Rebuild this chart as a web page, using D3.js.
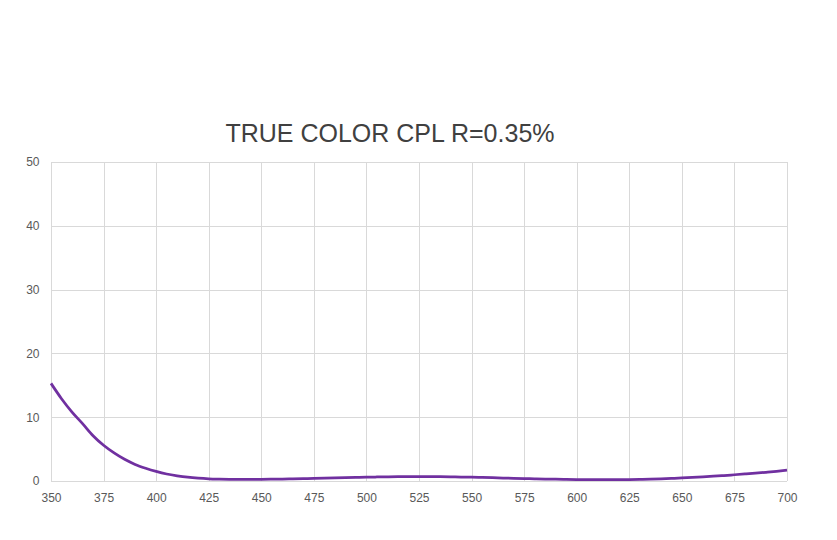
<!DOCTYPE html>
<html>
<head>
<meta charset="utf-8">
<script src="https://cdn.jsdelivr.net/npm/d3@7"></script>
<style>
  html, body { margin: 0; padding: 0; background: #fff; }
  svg { display: block; }
</style>
</head>
<body>
<svg id="chart" width="837" height="540"></svg>
<script>
const title = "TRUE COLOR CPL R=0.35%";
const wavelengths = [350,355,360,365,370,375,380,385,390,395,400,405,410,415,420,425,430,435,440,445,450,455,460,465,470,475,480,485,490,495,500,505,510,515,520,525,530,535,540,545,550,555,560,565,570,575,580,585,590,595,600,605,610,615,620,625,630,635,640,645,650,655,660,665,670,675,680,685,690,695,700];
const transmittance = [15.3,12.9,10.8,9.0,7.1,5.6,4.4,3.4,2.6,2.0,1.5,1.1,0.82,0.6,0.45,0.35,0.3,0.27,0.25,0.25,0.26,0.28,0.3,0.33,0.36,0.4,0.44,0.48,0.52,0.56,0.6,0.63,0.65,0.67,0.68,0.68,0.68,0.67,0.65,0.62,0.59,0.55,0.51,0.47,0.43,0.39,0.35,0.31,0.28,0.25,0.23,0.21,0.2,0.2,0.21,0.23,0.26,0.3,0.35,0.41,0.48,0.56,0.65,0.75,0.86,0.98,1.1,1.23,1.37,1.52,1.7];
const xTicks = [350,375,400,425,450,475,500,525,550,575,600,625,650,675,700];
const yTicks = [0,10,20,30,40,50];

const svg = d3.select("#chart");
const margin = {left: 51, right: 837 - 787, top: 162, bottom: 540 - 481};
const W = 837, H = 540;
const x = d3.scaleLinear().domain([350, 700]).range([margin.left, W - margin.right]);
const y = d3.scaleLinear().domain([0, 50]).range([H - margin.bottom, margin.top]);

const font = "'Liberation Sans', Arial, sans-serif";

svg.append("text")
  .attr("x", 390).attr("y", 142)
  .attr("text-anchor", "middle")
  .attr("font-family", font)
  .attr("font-size", 25)
  .attr("fill", "#404040")
  .text(title);

// gridlines
const grid = svg.append("g");
grid.selectAll("line.h").data(yTicks).join("line")
  .attr("x1", x(350)).attr("x2", x(700))
  .attr("y1", d => Math.round(y(d)) + 0.5).attr("y2", d => Math.round(y(d)) + 0.5)
  .attr("stroke", "#d9d9d9").attr("stroke-width", 1);
grid.selectAll("line.v").data(xTicks).join("line")
  .attr("y1", y(0)).attr("y2", y(50))
  .attr("x1", d => Math.round(x(d)) + 0.5).attr("x2", d => Math.round(x(d)) + 0.5)
  .attr("stroke", "#d9d9d9").attr("stroke-width", 1);

// axes labels via d3 axes
const xAxis = d3.axisBottom(x).tickValues(xTicks).tickSize(0).tickPadding(12.5);
const gx = svg.append("g").attr("transform", `translate(0,${y(0)})`).call(xAxis);
gx.select(".domain").remove();
gx.selectAll("text").attr("font-family", font).attr("font-size", 12).attr("fill", "#595959");

const yAxis = d3.axisLeft(y).tickValues(yTicks).tickSize(0).tickPadding(11.5);
const gy = svg.append("g").attr("transform", `translate(${x(350)},0)`).call(yAxis);
gy.select(".domain").remove();
gy.selectAll("text").attr("font-family", font).attr("font-size", 12).attr("fill", "#595959");

// line
const data = wavelengths.map((w, i) => ({w, v: transmittance[i]}));
svg.append("path")
  .datum(data)
  .attr("fill", "none")
  .attr("stroke", "#7030a0")
  .attr("stroke-width", 2.75)
  .attr("stroke-linejoin", "round")
  .attr("d", d3.line().x(d => x(d.w)).y(d => y(d.v)).curve(d3.curveMonotoneX));
</script>
</body>
</html>
